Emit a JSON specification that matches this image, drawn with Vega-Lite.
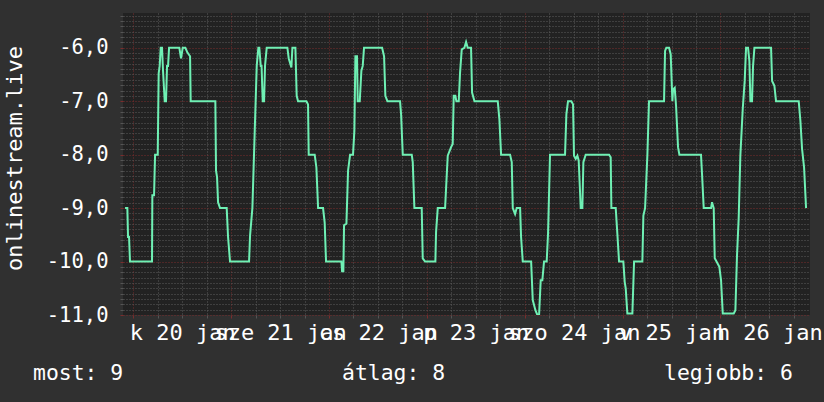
{
  "$schema": "https://vega.github.io/schema/vega-lite/v6.json",
  "width": 687,
  "height": 302,
  "autosize": {"type": "none"},
  "padding": {"left": 123, "top": 13, "right": 14, "bottom": 87},
  "background": "#303030",
  "config": {
    "view": {"fill": "#222222", "stroke": null},
    "font": "DejaVu Sans Mono"
  },
  "title": {
    "text": "most: 9\u00a0\u00a0\u00a0\u00a0\u00a0\u00a0\u00a0\u00a0\u00a0\u00a0\u00a0\u00a0\u00a0\u00a0\u00a0\u00a0\u00a0átlag: 8\u00a0\u00a0\u00a0\u00a0\u00a0\u00a0\u00a0\u00a0\u00a0\u00a0\u00a0\u00a0\u00a0\u00a0\u00a0\u00a0\u00a0legjobb: 6",
    "orient": "bottom",
    "anchor": "start",
    "frame": "group",
    "dx": -90,
    "offset": 20,
    "font": "DejaVu Sans Mono",
    "fontSize": 21.4,
    "fontWeight": "normal",
    "color": "#ffffff"
  },
  "data": {
    "values": [
      {"t": "2015-01-19T21:58", "v": -9.0},
      {"t": "2015-01-19T22:32", "v": -9.0},
      {"t": "2015-01-19T22:42", "v": -9.54},
      {"t": "2015-01-19T22:57", "v": -9.54},
      {"t": "2015-01-19T23:11", "v": -10.0},
      {"t": "2015-01-20T04:35", "v": -10.0},
      {"t": "2015-01-20T04:40", "v": -8.76},
      {"t": "2015-01-20T05:05", "v": -8.76},
      {"t": "2015-01-20T05:20", "v": -8.0},
      {"t": "2015-01-20T05:59", "v": -8.0},
      {"t": "2015-01-20T06:13", "v": -6.48},
      {"t": "2015-01-20T06:28", "v": -6.34},
      {"t": "2015-01-20T06:43", "v": -6.0},
      {"t": "2015-01-20T07:02", "v": -6.0},
      {"t": "2015-01-20T07:17", "v": -6.43},
      {"t": "2015-01-20T07:42", "v": -7.0},
      {"t": "2015-01-20T08:01", "v": -7.0},
      {"t": "2015-01-20T08:16", "v": -6.34},
      {"t": "2015-01-20T08:31", "v": -6.34},
      {"t": "2015-01-20T08:46", "v": -6.0},
      {"t": "2015-01-20T11:17", "v": -6.0},
      {"t": "2015-01-20T11:42", "v": -6.2},
      {"t": "2015-01-20T12:07", "v": -6.0},
      {"t": "2015-01-20T12:46", "v": -6.0},
      {"t": "2015-01-20T13:16", "v": -6.09},
      {"t": "2015-01-20T13:55", "v": -6.16},
      {"t": "2015-01-20T14:04", "v": -7.0},
      {"t": "2015-01-20T20:07", "v": -7.0},
      {"t": "2015-01-20T20:17", "v": -8.3},
      {"t": "2015-01-20T20:32", "v": -8.42},
      {"t": "2015-01-20T20:47", "v": -8.89},
      {"t": "2015-01-20T21:16", "v": -9.0},
      {"t": "2015-01-20T22:54", "v": -9.0},
      {"t": "2015-01-20T23:14", "v": -9.54},
      {"t": "2015-01-20T23:43", "v": -10.0},
      {"t": "2015-01-21T04:23", "v": -10.0},
      {"t": "2015-01-21T04:38", "v": -9.51},
      {"t": "2015-01-21T05:12", "v": -9.0},
      {"t": "2015-01-21T05:46", "v": -7.58},
      {"t": "2015-01-21T06:16", "v": -6.34},
      {"t": "2015-01-21T06:40", "v": -6.0},
      {"t": "2015-01-21T06:54", "v": -6.0},
      {"t": "2015-01-21T07:15", "v": -6.34},
      {"t": "2015-01-21T07:27", "v": -6.34},
      {"t": "2015-01-21T07:44", "v": -7.0},
      {"t": "2015-01-21T08:04", "v": -7.0},
      {"t": "2015-01-21T08:18", "v": -6.34},
      {"t": "2015-01-21T08:43", "v": -6.0},
      {"t": "2015-01-21T13:47", "v": -6.0},
      {"t": "2015-01-21T14:07", "v": -6.2},
      {"t": "2015-01-21T14:46", "v": -6.37},
      {"t": "2015-01-21T15:01", "v": -6.0},
      {"t": "2015-01-21T15:45", "v": -6.0},
      {"t": "2015-01-21T16:04", "v": -6.9},
      {"t": "2015-01-21T16:24", "v": -7.0},
      {"t": "2015-01-21T18:27", "v": -7.0},
      {"t": "2015-01-21T18:51", "v": -7.06},
      {"t": "2015-01-21T19:01", "v": -8.0},
      {"t": "2015-01-21T20:29", "v": -8.0},
      {"t": "2015-01-21T20:54", "v": -8.24},
      {"t": "2015-01-21T21:19", "v": -9.0},
      {"t": "2015-01-21T22:32", "v": -9.0},
      {"t": "2015-01-21T22:56", "v": -9.27},
      {"t": "2015-01-21T23:16", "v": -10.0},
      {"t": "2015-01-22T03:02", "v": -10.0},
      {"t": "2015-01-22T03:12", "v": -10.18},
      {"t": "2015-01-22T03:31", "v": -10.18},
      {"t": "2015-01-22T03:41", "v": -9.32},
      {"t": "2015-01-22T04:16", "v": -9.29},
      {"t": "2015-01-22T04:40", "v": -8.3},
      {"t": "2015-01-22T05:10", "v": -8.0},
      {"t": "2015-01-22T05:53", "v": -8.0},
      {"t": "2015-01-22T06:13", "v": -7.55},
      {"t": "2015-01-22T06:28", "v": -6.16},
      {"t": "2015-01-22T06:52", "v": -6.16},
      {"t": "2015-01-22T07:02", "v": -7.0},
      {"t": "2015-01-22T07:32", "v": -7.0},
      {"t": "2015-01-22T07:56", "v": -6.43},
      {"t": "2015-01-22T08:16", "v": -6.34},
      {"t": "2015-01-22T08:35", "v": -6.0},
      {"t": "2015-01-22T13:01", "v": -6.0},
      {"t": "2015-01-22T13:30", "v": -6.16},
      {"t": "2015-01-22T13:49", "v": -6.9},
      {"t": "2015-01-22T14:19", "v": -7.0},
      {"t": "2015-01-22T17:25", "v": -7.0},
      {"t": "2015-01-22T17:40", "v": -7.24},
      {"t": "2015-01-22T18:05", "v": -8.0},
      {"t": "2015-01-22T20:17", "v": -8.0},
      {"t": "2015-01-22T20:32", "v": -8.14},
      {"t": "2015-01-22T20:56", "v": -9.0},
      {"t": "2015-01-22T22:44", "v": -9.0},
      {"t": "2015-01-22T22:59", "v": -9.94},
      {"t": "2015-01-22T23:33", "v": -10.0},
      {"t": "2015-01-23T02:05", "v": -10.0},
      {"t": "2015-01-23T02:15", "v": -9.45},
      {"t": "2015-01-23T02:40", "v": -9.0},
      {"t": "2015-01-23T04:28", "v": -9.0},
      {"t": "2015-01-23T04:42", "v": -8.64},
      {"t": "2015-01-23T05:07", "v": -8.02},
      {"t": "2015-01-23T05:56", "v": -7.86},
      {"t": "2015-01-23T06:20", "v": -7.8},
      {"t": "2015-01-23T06:35", "v": -6.9},
      {"t": "2015-01-23T06:59", "v": -6.9},
      {"t": "2015-01-23T07:14", "v": -7.0},
      {"t": "2015-01-23T07:49", "v": -7.0},
      {"t": "2015-01-23T08:08", "v": -6.47},
      {"t": "2015-01-23T08:33", "v": -6.03},
      {"t": "2015-01-23T09:12", "v": -6.0},
      {"t": "2015-01-23T09:37", "v": -5.89},
      {"t": "2015-01-23T10:01", "v": -6.0},
      {"t": "2015-01-23T10:50", "v": -6.0},
      {"t": "2015-01-23T11:05", "v": -6.84},
      {"t": "2015-01-23T11:40", "v": -7.0},
      {"t": "2015-01-23T17:23", "v": -7.0},
      {"t": "2015-01-23T17:47", "v": -7.34},
      {"t": "2015-01-23T18:12", "v": -8.0},
      {"t": "2015-01-23T20:24", "v": -8.0},
      {"t": "2015-01-23T20:49", "v": -8.14},
      {"t": "2015-01-23T21:04", "v": -9.0},
      {"t": "2015-01-23T21:38", "v": -9.11},
      {"t": "2015-01-23T22:02", "v": -9.0},
      {"t": "2015-01-23T22:52", "v": -9.0},
      {"t": "2015-01-23T23:06", "v": -9.54},
      {"t": "2015-01-23T23:31", "v": -10.0},
      {"t": "2015-01-24T01:34", "v": -10.0},
      {"t": "2015-01-24T01:58", "v": -10.72},
      {"t": "2015-01-24T02:37", "v": -10.91},
      {"t": "2015-01-24T03:06", "v": -11.0},
      {"t": "2015-01-24T03:31", "v": -11.0},
      {"t": "2015-01-24T03:55", "v": -10.35},
      {"t": "2015-01-24T04:19", "v": -10.35},
      {"t": "2015-01-24T04:44", "v": -10.0},
      {"t": "2015-01-24T05:23", "v": -10.0},
      {"t": "2015-01-24T05:43", "v": -9.48},
      {"t": "2015-01-24T06:12", "v": -8.0},
      {"t": "2015-01-24T09:53", "v": -8.0},
      {"t": "2015-01-24T10:13", "v": -7.24},
      {"t": "2015-01-24T10:37", "v": -7.0},
      {"t": "2015-01-24T11:26", "v": -7.0},
      {"t": "2015-01-24T11:51", "v": -7.06},
      {"t": "2015-01-24T12:05", "v": -8.02},
      {"t": "2015-01-24T12:30", "v": -8.08},
      {"t": "2015-01-24T12:55", "v": -8.02},
      {"t": "2015-01-24T13:14", "v": -8.11},
      {"t": "2015-01-24T13:44", "v": -9.0},
      {"t": "2015-01-24T14:08", "v": -9.0},
      {"t": "2015-01-24T14:23", "v": -8.14},
      {"t": "2015-01-24T14:57", "v": -8.0},
      {"t": "2015-01-24T20:41", "v": -8.0},
      {"t": "2015-01-24T21:05", "v": -8.05},
      {"t": "2015-01-24T21:15", "v": -9.0},
      {"t": "2015-01-24T22:19", "v": -9.0},
      {"t": "2015-01-24T22:43", "v": -9.48},
      {"t": "2015-01-24T23:08", "v": -10.0},
      {"t": "2015-01-25T00:11", "v": -10.0},
      {"t": "2015-01-25T00:31", "v": -10.38},
      {"t": "2015-01-25T00:46", "v": -10.5},
      {"t": "2015-01-25T01:10", "v": -10.97},
      {"t": "2015-01-25T02:24", "v": -10.97},
      {"t": "2015-01-25T02:49", "v": -10.0},
      {"t": "2015-01-25T04:51", "v": -10.0},
      {"t": "2015-01-25T05:06", "v": -9.14},
      {"t": "2015-01-25T05:31", "v": -9.0},
      {"t": "2015-01-25T06:05", "v": -8.0},
      {"t": "2015-01-25T06:29", "v": -7.0},
      {"t": "2015-01-25T10:10", "v": -7.0},
      {"t": "2015-01-25T10:25", "v": -6.06},
      {"t": "2015-01-25T10:44", "v": -6.0},
      {"t": "2015-01-25T11:24", "v": -6.0},
      {"t": "2015-01-25T11:48", "v": -6.12},
      {"t": "2015-01-25T12:13", "v": -7.0},
      {"t": "2015-01-25T12:23", "v": -6.78},
      {"t": "2015-01-25T12:47", "v": -6.75},
      {"t": "2015-01-25T13:07", "v": -7.09},
      {"t": "2015-01-25T13:36", "v": -7.86},
      {"t": "2015-01-25T13:56", "v": -8.0},
      {"t": "2015-01-25T19:14", "v": -8.0},
      {"t": "2015-01-25T19:29", "v": -8.36},
      {"t": "2015-01-25T19:54", "v": -9.0},
      {"t": "2015-01-25T21:42", "v": -9.0},
      {"t": "2015-01-25T21:56", "v": -8.89},
      {"t": "2015-01-25T22:21", "v": -9.0},
      {"t": "2015-01-25T22:36", "v": -9.94},
      {"t": "2015-01-25T23:20", "v": -10.04},
      {"t": "2015-01-25T23:44", "v": -10.1},
      {"t": "2015-01-26T00:09", "v": -10.35},
      {"t": "2015-01-26T00:34", "v": -10.97},
      {"t": "2015-01-26T03:16", "v": -10.97},
      {"t": "2015-01-26T03:40", "v": -10.91},
      {"t": "2015-01-26T04:04", "v": -9.88},
      {"t": "2015-01-26T04:29", "v": -9.17},
      {"t": "2015-01-26T04:53", "v": -8.02},
      {"t": "2015-01-26T05:28", "v": -7.15},
      {"t": "2015-01-26T05:57", "v": -6.62},
      {"t": "2015-01-26T06:17", "v": -6.0},
      {"t": "2015-01-26T06:46", "v": -6.0},
      {"t": "2015-01-26T07:06", "v": -6.25},
      {"t": "2015-01-26T07:21", "v": -7.0},
      {"t": "2015-01-26T07:45", "v": -7.0},
      {"t": "2015-01-26T08:00", "v": -6.34},
      {"t": "2015-01-26T08:20", "v": -6.0},
      {"t": "2015-01-26T12:25", "v": -6.0},
      {"t": "2015-01-26T12:40", "v": -6.62},
      {"t": "2015-01-26T13:14", "v": -6.71},
      {"t": "2015-01-26T13:38", "v": -7.0},
      {"t": "2015-01-26T19:12", "v": -7.0},
      {"t": "2015-01-26T19:37", "v": -7.37},
      {"t": "2015-01-26T20:01", "v": -7.89},
      {"t": "2015-01-26T20:31", "v": -8.24},
      {"t": "2015-01-26T21:00", "v": -9.0}
    ]
  },
  "resolve": {"axis": {"x": "independent", "y": "independent"}},
  "layer": [
    {
      "mark": {"type": "line", "strokeOpacity": 0, "clip": true},
      "encoding": {
        "x": {
          "field": "t",
          "type": "temporal",
          "scale": {
            "domain": [
              {"year": 2015, "month": 1, "date": 19, "hours": 21, "minutes": 28},
              {"year": 2015, "month": 1, "date": 26, "hours": 21, "minutes": 58}
            ]
          },
          "axis": {
            "orient": "bottom",
            "title": null,
            "values": [
              {"year": 2015, "month": 1, "date": 20, "hours": 6},
              {"year": 2015, "month": 1, "date": 20, "hours": 12},
              {"year": 2015, "month": 1, "date": 20, "hours": 18},
              {"year": 2015, "month": 1, "date": 21, "hours": 6},
              {"year": 2015, "month": 1, "date": 21, "hours": 12},
              {"year": 2015, "month": 1, "date": 21, "hours": 18},
              {"year": 2015, "month": 1, "date": 22, "hours": 6},
              {"year": 2015, "month": 1, "date": 22, "hours": 12},
              {"year": 2015, "month": 1, "date": 22, "hours": 18},
              {"year": 2015, "month": 1, "date": 23, "hours": 6},
              {"year": 2015, "month": 1, "date": 23, "hours": 12},
              {"year": 2015, "month": 1, "date": 23, "hours": 18},
              {"year": 2015, "month": 1, "date": 24, "hours": 6},
              {"year": 2015, "month": 1, "date": 24, "hours": 12},
              {"year": 2015, "month": 1, "date": 24, "hours": 18},
              {"year": 2015, "month": 1, "date": 25, "hours": 6},
              {"year": 2015, "month": 1, "date": 25, "hours": 12},
              {"year": 2015, "month": 1, "date": 25, "hours": 18},
              {"year": 2015, "month": 1, "date": 26, "hours": 6},
              {"year": 2015, "month": 1, "date": 26, "hours": 12},
              {"year": 2015, "month": 1, "date": 26, "hours": 18}
            ],
            "grid": true,
            "gridColor": "#5c5c5c",
            "gridDash": [1, 2],
            "gridOpacity": 1,
            "domain": false,
            "ticks": true,
            "tickSize": 3,
            "tickColor": "#555555",
            "labelExpr": "hours(datum.value) == 12 ? (day(datum.value) == 0 ? 'v' : day(datum.value) == 1 ? 'h' : day(datum.value) == 2 ? 'k' : day(datum.value) == 3 ? 'sze' : day(datum.value) == 4 ? 'cs' : day(datum.value) == 5 ? 'p' : 'szo') + ' ' + date(datum.value) + ' jan' : ''",
            "labelOverlap": false,
            "labelFlush": false,
            "labelBound": false,
            "labelFont": "DejaVu Sans Mono",
            "labelFontSize": 22,
            "labelColor": "#ffffff",
            "labelPadding": 4
          }
        },
        "y": {
          "field": "v",
          "type": "quantitative",
          "scale": {"domain": [-11, -5.35], "nice": false, "zero": false},
          "axis": {
            "orient": "left",
            "title": "onlinestream.live",
            "titleFont": "DejaVu Sans Mono",
            "titleFontSize": 22,
            "titleFontWeight": "normal",
            "titleColor": "#ffffff",
            "titleX": -109,
            "titleY": 145,
            "titleAngle": -90,
            "titleBaseline": "middle",
            "titleAlign": "center",
            "values": [-10.9, -10.8, -10.7, -10.6, -10.5, -10.4, -10.3, -10.2, -10.1, -9.9, -9.8, -9.7, -9.6, -9.5, -9.4, -9.3, -9.2, -9.1, -8.9, -8.8, -8.7, -8.6, -8.5, -8.4, -8.3, -8.2, -8.1, -7.9, -7.8, -7.7, -7.6, -7.5, -7.4, -7.3, -7.2, -7.1, -6.9, -6.8, -6.7, -6.6, -6.5, -6.4, -6.3, -6.2, -6.1, -5.9, -5.8, -5.7, -5.6, -5.5, -5.4],
            "grid": true,
            "gridColor": "#5c5c5c",
            "gridDash": [1, 2],
            "gridOpacity": 1,
            "domain": false,
            "ticks": true,
            "tickSize": 3,
            "tickColor": "#555555",
            "labels": false
          }
        }
      }
    },
    {
      "mark": {"type": "line", "color": "#6ff0b4", "strokeWidth": 2, "clip": true},
      "encoding": {
        "x": {
          "field": "t",
          "type": "temporal",
          "scale": {
            "domain": [
              {"year": 2015, "month": 1, "date": 19, "hours": 21, "minutes": 28},
              {"year": 2015, "month": 1, "date": 26, "hours": 21, "minutes": 58}
            ]
          },
          "axis": {
            "orient": "bottom",
            "title": null,
            "values": [
              {"year": 2015, "month": 1, "date": 20},
              {"year": 2015, "month": 1, "date": 21},
              {"year": 2015, "month": 1, "date": 22},
              {"year": 2015, "month": 1, "date": 23},
              {"year": 2015, "month": 1, "date": 24},
              {"year": 2015, "month": 1, "date": 25},
              {"year": 2015, "month": 1, "date": 26}
            ],
            "grid": true,
            "gridColor": "#7a2c2c",
            "gridDash": [1, 2],
            "gridOpacity": 1,
            "domain": false,
            "ticks": true,
            "tickSize": 3,
            "tickColor": "#7a2c2c",
            "labels": false
          }
        },
        "y": {
          "field": "v",
          "type": "quantitative",
          "scale": {"domain": [-11, -5.35], "nice": false, "zero": false},
          "axis": {
            "orient": "left",
            "title": null,
            "values": [-11, -10, -9, -8, -7, -6],
            "grid": true,
            "gridColor": "#7a2c2c",
            "gridDash": [1, 2],
            "gridOpacity": 1,
            "domain": false,
            "ticks": true,
            "tickSize": 3,
            "tickColor": "#7a2c2c",
            "labelExpr": "'-' + replace(format(abs(datum.value), '.1f'), '.', ',')",
            "labelOverlap": false,
            "labelFont": "DejaVu Sans Mono",
            "labelFontSize": 20.5,
            "labelColor": "#ffffff",
            "labelPadding": 12
          }
        }
      }
    }
  ]
}
